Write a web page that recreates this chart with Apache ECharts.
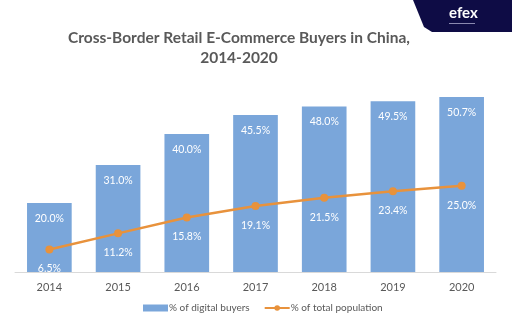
<!DOCTYPE html>
<html>
<head>
<meta charset="utf-8">
<script src="https://cdn.jsdelivr.net/npm/echarts@6/dist/echarts.min.js"></script>
<style>
  html, body { margin: 0; padding: 0; background: #fff; }
  #chart { width: 512px; height: 333px; }
</style>
</head>
<body>
<div id="chart"></div>
<script>
// Cross-border e-commerce buyers in China, share of digital buyers vs. population
const years = ['2014', '2015', '2016', '2017', '2018', '2019', '2020'];
const digitalBuyers = [20.0, 31.0, 40.0, 45.5, 48.0, 49.5, 50.7];
const totalPopulation = [6.5, 11.2, 15.8, 19.1, 21.5, 23.4, 25.0];

const FONT = 'Lato, "Open Sans", sans-serif';
const chart = echarts.init(document.getElementById('chart'));

chart.setOption({
  backgroundColor: '#ffffff',
  animation: false,
  title: {
    text: 'Cross-Border Retail E-Commerce Buyers in China,\n2014-2020',
    left: 234,
    top: 23,
    textAlign: 'center',
    textStyle: {
      fontFamily: FONT,
      fontSize: 15.5,
      fontWeight: 'bold',
      color: '#595959',
      lineHeight: 20
    }
  },
  graphic: [
    {
      type: 'polygon',
      shape: { points: [[413, 0], [512, 0], [512, 32], [432, 32], [424, 27]] },
      style: { fill: '#0e0c45' }
    },
    {
      type: 'text',
      left: 449, top: 6,
      style: { text: 'efex', fill: '#ffffff', font: 'bold 15px ' + FONT }
    },
    {
      type: 'rect',
      shape: { x: 449, y: 23, width: 26, height: 1 },
      style: { fill: '#8a89b0' }
    }
  ],
  legend: {
    bottom: 15,
    left: 138,
    itemGap: 14,
    itemWidth: 25,
    itemHeight: 7,
    textStyle: { fontFamily: FONT, fontSize: 10, color: '#595959', padding: [0, 0, 0, -4] },
    data: [
      { name: '% of digital buyers', icon: 'rect' },
      { name: '% of total population' }
    ]
  },
  grid: { left: 15, right: 16, top: 65, bottom: 61 },
  xAxis: {
    type: 'category',
    data: years,
    axisLine: { lineStyle: { color: '#d9d9d9', width: 1 } },
    axisTick: { show: false },
    axisLabel: { fontFamily: FONT, fontSize: 11, color: '#595959', margin: 10 }
  },
  yAxis: {
    type: 'value',
    min: 0,
    max: 60,
    show: false,
    splitLine: { show: false }
  },
  series: [
    {
      name: '% of digital buyers',
      type: 'bar',
      data: digitalBuyers,
      barWidth: '65%',
      itemStyle: { color: '#7aa6da' },
      label: {
        show: true,
        position: 'insideTop',
        distance: 10,
        formatter: p => p.value.toFixed(1) + '%',
        fontFamily: FONT,
        fontSize: 10.5,
        color: '#ffffff'
      }
    },
    {
      name: '% of total population',
      type: 'line',
      data: totalPopulation,
      symbol: 'circle',
      symbolSize: 8,
      lineStyle: { color: '#e8923c', width: 2.5 },
      itemStyle: { color: '#e8923c' },
      label: {
        show: true,
        position: 'bottom',
        distance: 10,
        formatter: p => p.value.toFixed(1) + '%',
        fontFamily: FONT,
        fontSize: 10.5,
        color: '#ffffff'
      }
    }
  ]
});
</script>
</body>
</html>
